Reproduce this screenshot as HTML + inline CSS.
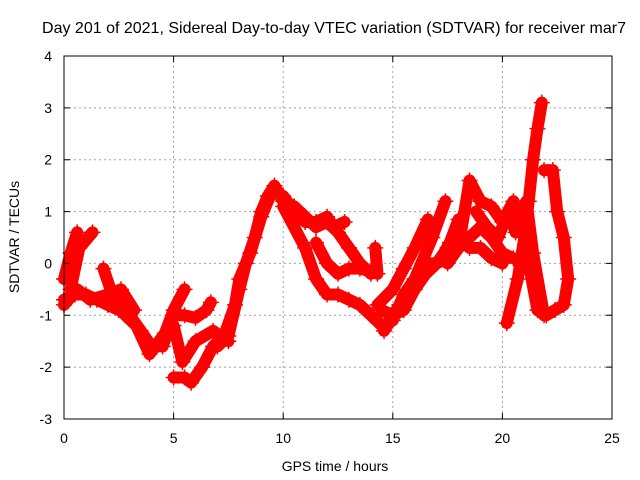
<!DOCTYPE html>
<html><head><meta charset="utf-8"><style>
body{margin:0;background:#fff}
svg{display:block;font-family:"Liberation Sans",sans-serif}
</style></head><body>
<svg id="chart" width="640" height="480">
<rect width="640" height="480" fill="#fff"/>
<text x="334" y="33" text-anchor="middle" font-size="16">Day 201 of 2021, Sidereal Day-to-day VTEC variation (SDTVAR) for receiver mar7</text>
<g id="grid"></g><g id="series"></g><g id="axes"></g>
<text x="335" y="471" text-anchor="middle" font-size="14">GPS time / hours</text>
<text transform="translate(19,237) rotate(-90)" text-anchor="middle" font-size="14">SDTVAR / TECUs</text>
</svg>
<script>
const xTicks=[0,5,10,15,20,25];
const yTicks=[-3,-2,-1,0,1,2,3,4];
const trackA=[[0,-0.7],[0.5,-0.6],[1,-0.6],[1.5,-0.7],[2,-0.8],[2.5,-0.9],[3,-1.0],[3.5,-1.3],[4,-1.6],[4.5,-1.6],[5,-1.0],[5.5,-1.0],[6,-1.05],[6.5,-0.9],[6.7,-0.75]];
const trackB=[[0,-0.3],[0.3,0.2],[0.6,0.6]];
const trackC=[[0.3,-0.5],[0.7,0.3],[1.3,0.6]];
const trackD=[[1.8,-0.1],[2.2,-0.6],[2.8,-1.0],[3.3,-1.2],[3.9,-1.75],[4.6,-1.35],[5.0,-0.9],[5.5,-0.5]];
const trackE=[[0,-0.8],[0.6,-0.5],[1.2,-0.7],[2,-0.6],[2.6,-0.5],[3.2,-0.9]];
const trackF=[[5.0,-1.2],[5.4,-1.9],[6,-1.5],[6.8,-1.3],[7.5,-1.5]];
const trackG=[[5,-2.2],[5.5,-2.2],[5.8,-2.3],[6.3,-2.0],[6.8,-1.6],[7.3,-1.4],[7.8,-0.8],[8,-0.3],[8.5,0.2],[9,0.9],[9.5,1.4],[10,1.3],[10.5,1.0],[11,0.8],[11.5,0.8],[12,0.9],[12.3,0.7],[12.8,0.8]];
const trackH=[[7,-1.6],[7.5,-1.4],[8,-0.5],[8.3,0],[8.7,0.5],[9,1.0],[9.3,1.3],[9.6,1.5],[10,1.2],[10.5,1.1],[11,0.9],[11.5,0.7],[12,0.8],[12.5,0.6],[13,0.3],[13.5,0.0],[14,-0.2]];
const trackI=[[10,1.1],[11,0.3],[11.5,-0.3],[12,-0.6],[12.5,-0.6],[13,-0.7],[13.5,-0.8],[14,-1.0],[14.5,-1.2],[15,-1.1],[15.5,-0.6],[16,-0.3],[16.5,0.0],[17,0.0],[17.5,0.1],[18,0.3],[18.5,0.5],[19,0.7],[19.5,0.5],[20,0.2],[20.5,0.1]];
const trackJ=[[11.5,0.4],[12,0.0],[12.5,-0.2],[13,-0.1],[13.5,-0.1],[14,-0.15]];
const trackK=[[14.3,-0.8],[15,-0.5],[15.5,-0.1],[16,0.3],[16.6,0.85]];
const trackL=[[14.6,-1.3],[15.3,-0.8],[16,-0.3],[16.8,0.5],[17.4,1.2]];
const trackM=[[16.5,-0.2],[17.2,0.1],[17.6,0.4],[18,0.85]];
const trackN=[[17.5,0.0],[18,0.3],[18.5,1.6],[19,1.2],[19.5,1.1],[20,0.8],[20.5,1.2],[21,0.8]];
const trackO=[[20.2,-1.15],[20.7,-0.3],[21,0.5],[21.2,1.2],[21.4,2.0],[21.6,2.6],[21.8,3.1]];
const trackP=[[20.8,1.0],[21.0,0.7],[21.2,0.0],[21.6,-0.9],[22,-1.0],[22.4,-0.9],[22.8,-0.8],[23,-0.3],[22.8,0.5],[22.5,1.0],[22.3,1.8],[21.9,1.8]];
const trackQ=[[20.5,0.8],[21.1,1.2],[21.4,0.2],[21.9,-1.0]];
const trackR=[[14.2,0.3],[14.3,-0.2]];
const trackS=[[14.5,-0.9],[15,-1.0],[15.5,-0.9],[16,-0.5],[16.5,-0.2],[17,0.0],[17.5,0.3],[18,0.5],[18.5,0.3],[19,0.3],[19.5,0.1],[20,0.0]];
const trackT=[[18.8,1.0],[19.3,0.7],[19.8,0.5],[20.3,1.0],[20.6,0.6]];
const tracks=[trackA,trackB,trackC,trackD,trackE,trackF,trackG,trackH,trackI,trackJ,trackK,trackL,trackM,trackN,trackO,trackP,trackQ,trackR,trackS,trackT];
const X0=64,X1=612,Y0=419,Y1=56;
const sx=t=>X0+(t-0)/(25-0)*(X1-X0);
const sy=v=>Y0-(v+3)/(4+3)*(Y0-Y1);
const NS="http://www.w3.org/2000/svg";
const mk=(tag,at,parent)=>{const e=document.createElementNS(NS,tag);for(const k in at)e.setAttribute(k,at[k]);parent.appendChild(e);return e;};
const grid=document.getElementById('grid'),axes=document.getElementById('axes'),ser=document.getElementById('series');
xTicks.forEach(t=>{
 if(t>0&&t<25){const l=mk('line',{x1:sx(t),x2:sx(t),y1:Y1,y2:Y0,stroke:'#a0a0a0','stroke-dasharray':'2,3'},grid);
 
 }
 const tk=mk('path',{d:`M${sx(t)},${Y0}v-6M${sx(t)},${Y1}v6`,stroke:'#000'},axes);
 
 
 const tx=mk('text',{x:sx(t),y:Y0+24,'text-anchor':'middle','font-size':14},axes);tx.textContent=t;
 
 
});
yTicks.forEach(v=>{
 if(v>-3&&v<4){const l=mk('line',{x1:X0,x2:X1,y1:sy(v),y2:sy(v),stroke:'#a0a0a0','stroke-dasharray':'2,3'},grid);
 
 }
 const tk=mk('path',{d:`M${X0},${sy(v)}h6M${X1},${sy(v)}h-6`,stroke:'#000'},axes);
 
 
 const tx=mk('text',{x:X0-12,y:sy(v)+5,'text-anchor':'end','font-size':14},axes);tx.textContent=v;
 
 
});
const fr=mk('rect',{x:X0,y:Y1,width:X1-X0,height:Y0-Y1,fill:'none',stroke:'#000'},axes);


tracks.forEach(tr=>{
 const pl=mk('polyline',{points:tr.map(p=>sx(p[0])+','+sy(p[1])).join(' '),fill:'none',stroke:'#ff0000','stroke-width':12,'stroke-linejoin':'round','stroke-linecap':'round'},ser);
 
 
 tr.forEach(p=>{
  const m=mk('path',{d:`M${sx(p[0])-8},${sy(p[1])}h16M${sx(p[0])},${sy(p[1])-8}v16`,stroke:'#ff0000','stroke-width':1.5},ser);
  
  
 });
});
</script>
</body></html>
